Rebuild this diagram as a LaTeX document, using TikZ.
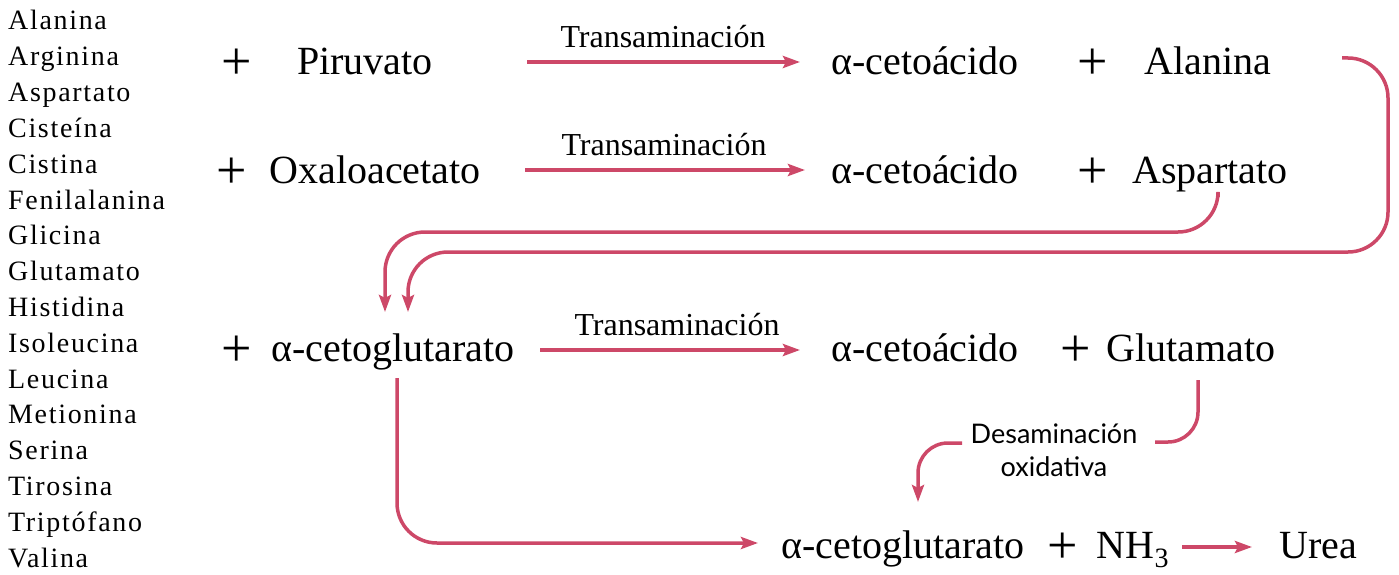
\documentclass[tikz,border=0pt]{standalone}
\usepackage{fontspec}
\setmainfont{Liberation Serif}
\newfontfamily\listfont[LetterSpace=6]{Liberation Serif}
\newfontfamily\labfont{Lato}
\usetikzlibrary{arrows.meta}
\definecolor{arr}{RGB}{205,72,104}
\tikzset{
  big/.style={font=\fontsize{40}{40}\selectfont, inner sep=0pt, anchor=base},
  plus/.style={font=\fontsize{54}{54}\selectfont, inner sep=0pt, anchor=base, yshift=-5pt},
  amino/.style={font=\listfont\fontsize{28}{28}\selectfont, inner sep=0pt, anchor=base west},
  lab/.style={font=\fontsize{32}{32}\selectfont, inner sep=0pt, anchor=base},
  rxn/.style={draw=arr, line width=3.5pt, -{Stealth[length=17pt,width=12pt,inset=3pt]}, rounded corners=40pt},
  link/.style={draw=arr, line width=3.5pt, rounded corners=30pt},
}
\begin{document}
\begin{tikzpicture}[x=1pt,y=-1pt]
\useasboundingbox (0,0) rectangle (1399,575);
% amino acid list
\foreach \n [count=\i from 0] in {Alanina,Arginina,Aspartato,Cisteína,Cistina,Fenilalanina,Glicina,Glutamato,Histidina,Isoleucina,Leucina,Metionina,Serina,Tirosina,Triptófano,Valina}
  \node[amino] (aa\i) at (8,{30+35.8*\i}) {\n};
% row 1
\node[plus] (p1) at (237,75) {+};
\node[big] (piru) at (365,75) {Piruvato};
\node[lab] (t1) at (663,48) {Transaminación};
\node[big] (k1) at (925,75) {α-cetoácido};
\node[plus] (q1) at (1093,75) {+};
\node[big] (ala) at (1208,75) {Alanina};
\coordinate (a1s) at (527,62); \coordinate (a1e) at (800,62);
\draw[rxn] (a1s) -- (a1e);
% row 2
\node[plus] (p2) at (232,183) {+};
\node[big] (oxa) at (375,183) {Oxaloacetato};
\node[lab] (t2) at (664,155) {Transaminación};
\node[big] (k2) at (925,183) {α-cetoácido};
\node[plus] (q2) at (1093,183) {+};
\node[big] (asp) at (1210,183) {Aspartato};
\coordinate (a2s) at (525,170); \coordinate (a2e) at (805,170);
\draw[rxn] (a2s) -- (a2e);
% row 3
\node[plus] (p3) at (237,361) {+};
\node[big] (akg) at (393,361) {α-cetoglutarato};
\node[lab] (t3) at (677,335) {Transaminación};
\node[big] (k3) at (925,361) {α-cetoácido};
\node[plus] (q3) at (1076,361) {+};
\node[big] (glu) at (1191,361) {Glutamato};
\coordinate (a3s) at (540,350); \coordinate (a3e) at (800,350);
\draw[rxn] (a3s) -- (a3e);
% row 4
\node[big] (akg2) at (903,558) {α-cetoglutarato};
\node[plus] (q4) at (1063,558) {+};
\node[big] (nh) at (1133,558) {NH\textsubscript{3}};
\node[big] (urea) at (1318,558) {Urea};
\coordinate (a4s) at (1182,547); \coordinate (a4e) at (1252,547);
\draw[rxn] (a4s) -- (a4e);
% recycling connectors
\coordinate (alaS) at (1342,58);
\coordinate (alaT) at (408,312);
\draw[rxn] (alaS) -- (1388,58) -- (1388,252) -- (408,252) -- (alaT);
\coordinate (aspS) at (1218,197);
\coordinate (aspT) at (385,312);
\draw[rxn] (aspS) -- (1218,232) -- (385,232) -- (aspT);
% alpha-cetoglutarato down to row 4
\coordinate (akgS) at (397,378);
\coordinate (akgT) at (758,543);
\draw[rxn] (akgS) -- (397,543) -- (akgT);
% oxidative deamination
\node[font=\labfont\fontsize{27}{33}\selectfont, align=center, inner sep=0pt] (des) at (1054,450) {Desaminación\\oxidativa};
\coordinate (gluS) at (1198,380);
\coordinate (desR) at (1155,442);
\draw[link] (gluS) -- (1198,442) -- (desR);
\coordinate (desL) at (962,443);
\coordinate (desT) at (918,502);
\draw[rxn, rounded corners=30pt] (desL) -- (918,443) -- (desT);
\end{tikzpicture}
\end{document}
